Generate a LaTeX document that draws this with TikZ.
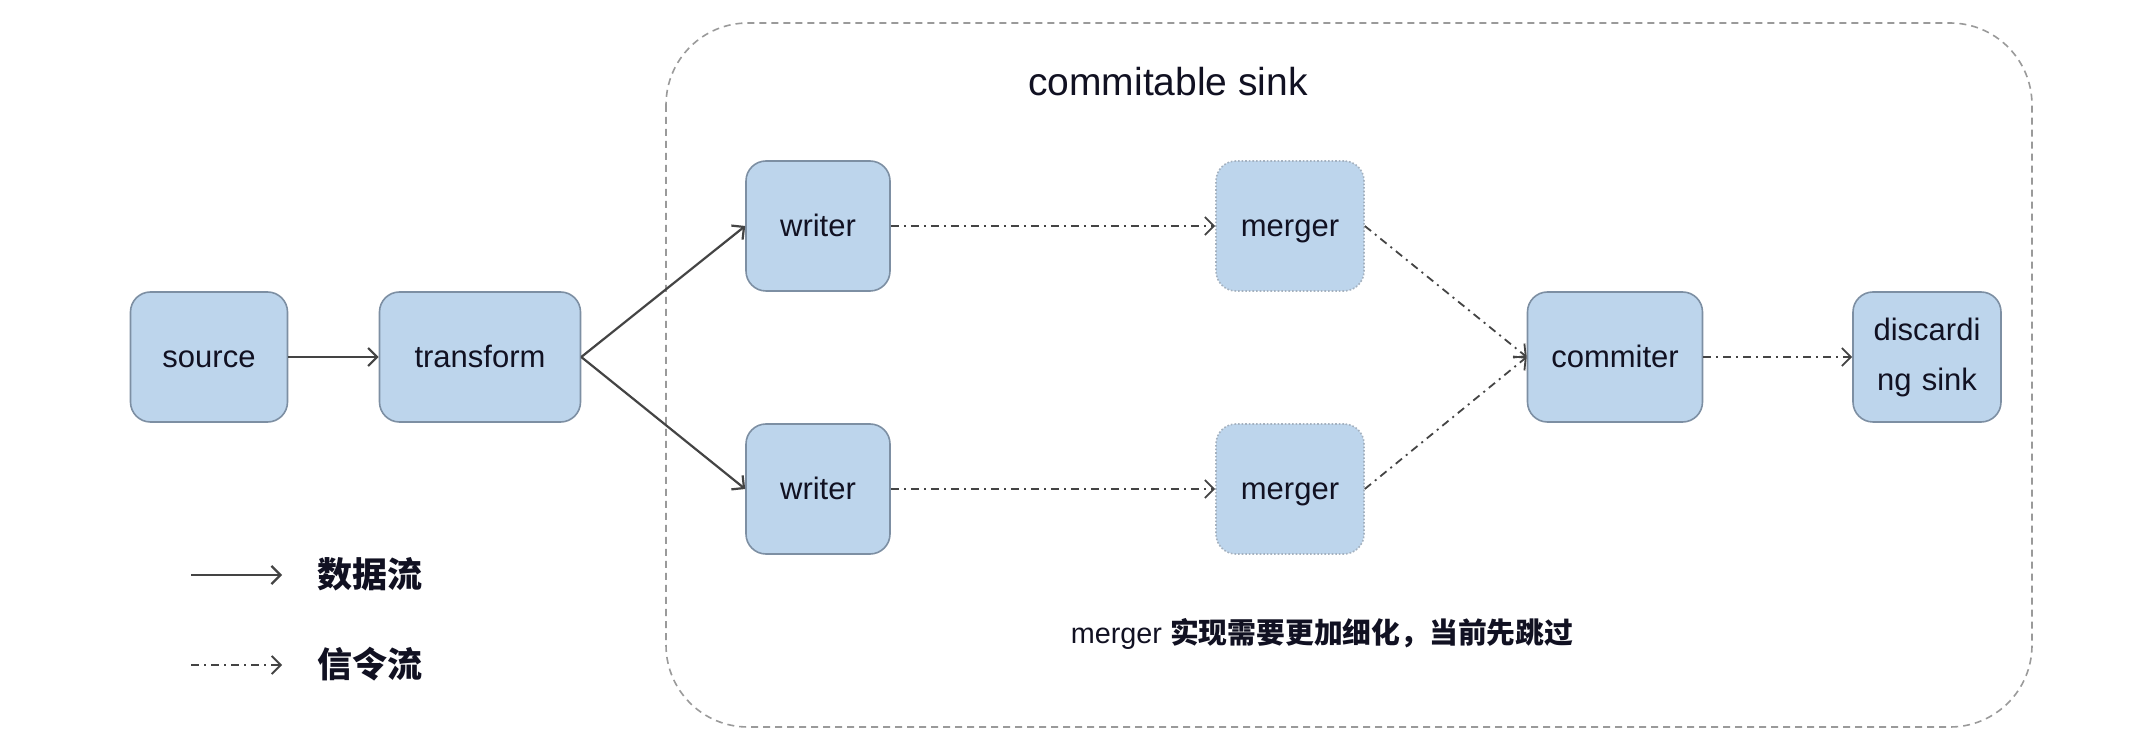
\documentclass[tikz,border=0pt]{standalone}
\usepackage{fontspec}
\setmainfont{Liberation Sans}
\newfontfamily\cjk{Noto Sans CJK SC}
\usetikzlibrary{arrows.meta}
\definecolor{boxfill}{HTML}{BDD5EC}
\definecolor{boxline}{HTML}{7D8FA3}
\definecolor{flowline}{HTML}{444444}
\definecolor{contline}{HTML}{9A9A9A}
\definecolor{txt}{HTML}{111122}
\tikzset{
  blk/.style={draw=boxline, fill=boxfill, line width=0.8pt, rounded corners=10pt,
    minimum height=65pt, inner sep=2pt, align=center, text=txt,
    font=\fontsize{15.5}{17}\selectfont},
  oneline/.style={text height=14pt, text depth=3pt},
  mblk/.style={blk, oneline, draw=boxline!70, densely dotted},
  dataflow/.style={draw=flowline, line width=1.1pt, -{Straight Barb[length=4.5pt,width=9pt]}},
  sigflow/.style={draw=flowline, line width=0.9pt, dash pattern=on 4pt off 2.5pt on 1pt off 2.5pt,
    -{Straight Barb[length=4.5pt,width=9pt]}},
  cont/.style={draw=contline, line width=0.8pt, dash pattern=on 3.5pt off 2.5pt, rounded corners=41pt},
  lbl/.style={text=txt}
}
\begin{document}
\begin{tikzpicture}[x=0.5pt,y=-0.5pt]
\useasboundingbox (0,0) rectangle (2143,753);
\fill[white] (0,0) rectangle (2143,753);
% container
\draw[cont] (666,23) rectangle (2032,727);
\node[lbl, font=\fontsize{19.5}{22}\selectfont] (title) at (1168,82) {commitable sink};
% boxes
\node[blk, oneline, minimum width=78.5pt] (source) at (209,357) {source};
\node[blk, oneline, minimum width=100.5pt] (transform) at (480,357) {transform};
\node[blk, oneline, minimum width=72pt] (writer1) at (818,226) {writer};
\node[blk, oneline, minimum width=72pt] (writer2) at (818,489) {writer};
\node[mblk, minimum width=74pt] (merger1) at (1290,226) {merger};
\node[mblk, minimum width=74pt] (merger2) at (1290,489) {merger};
\node[blk, oneline, minimum width=87.5pt] (commiter) at (1615,357) {commiter};
\node[blk, minimum width=74pt, text width=68pt, font=\fontsize{15.5}{25}\selectfont] (discard) at (1927,357) {discardi\\ng sink};
% connectors
\draw[dataflow] (source) -- (transform);
\draw[dataflow] (transform.east) -- (writer1.west);
\draw[dataflow] (transform.east) -- (writer2.west);
\draw[sigflow] (writer1) -- (merger1);
\draw[sigflow] (writer2) -- (merger2);
\draw[sigflow] (merger1.east) -- (commiter.west);
\draw[sigflow] (merger2.east) -- (commiter.west);
\draw[sigflow] (commiter) -- (discard);
% note
\node[lbl, font=\fontsize{14.4}{17}\selectfont] (note) at (1322,634) {merger {\cjk\bfseries 实现需要更加细化，当前先跳过}};
% legend
\coordinate (l1a) at (191,575);
\coordinate (l1b) at (282,575);
\coordinate (l2a) at (191,665);
\coordinate (l2b) at (282,665);
\draw[dataflow] (l1a) -- (l1b);
\draw[sigflow] (l2a) -- (l2b);
\node[lbl, font=\cjk\bfseries\fontsize{17.5}{20}\selectfont] (leg1) at (370,574) {数据流};
\node[lbl, font=\cjk\bfseries\fontsize{17.5}{20}\selectfont] (leg2) at (370,664) {信令流};
\end{tikzpicture}
\end{document}
